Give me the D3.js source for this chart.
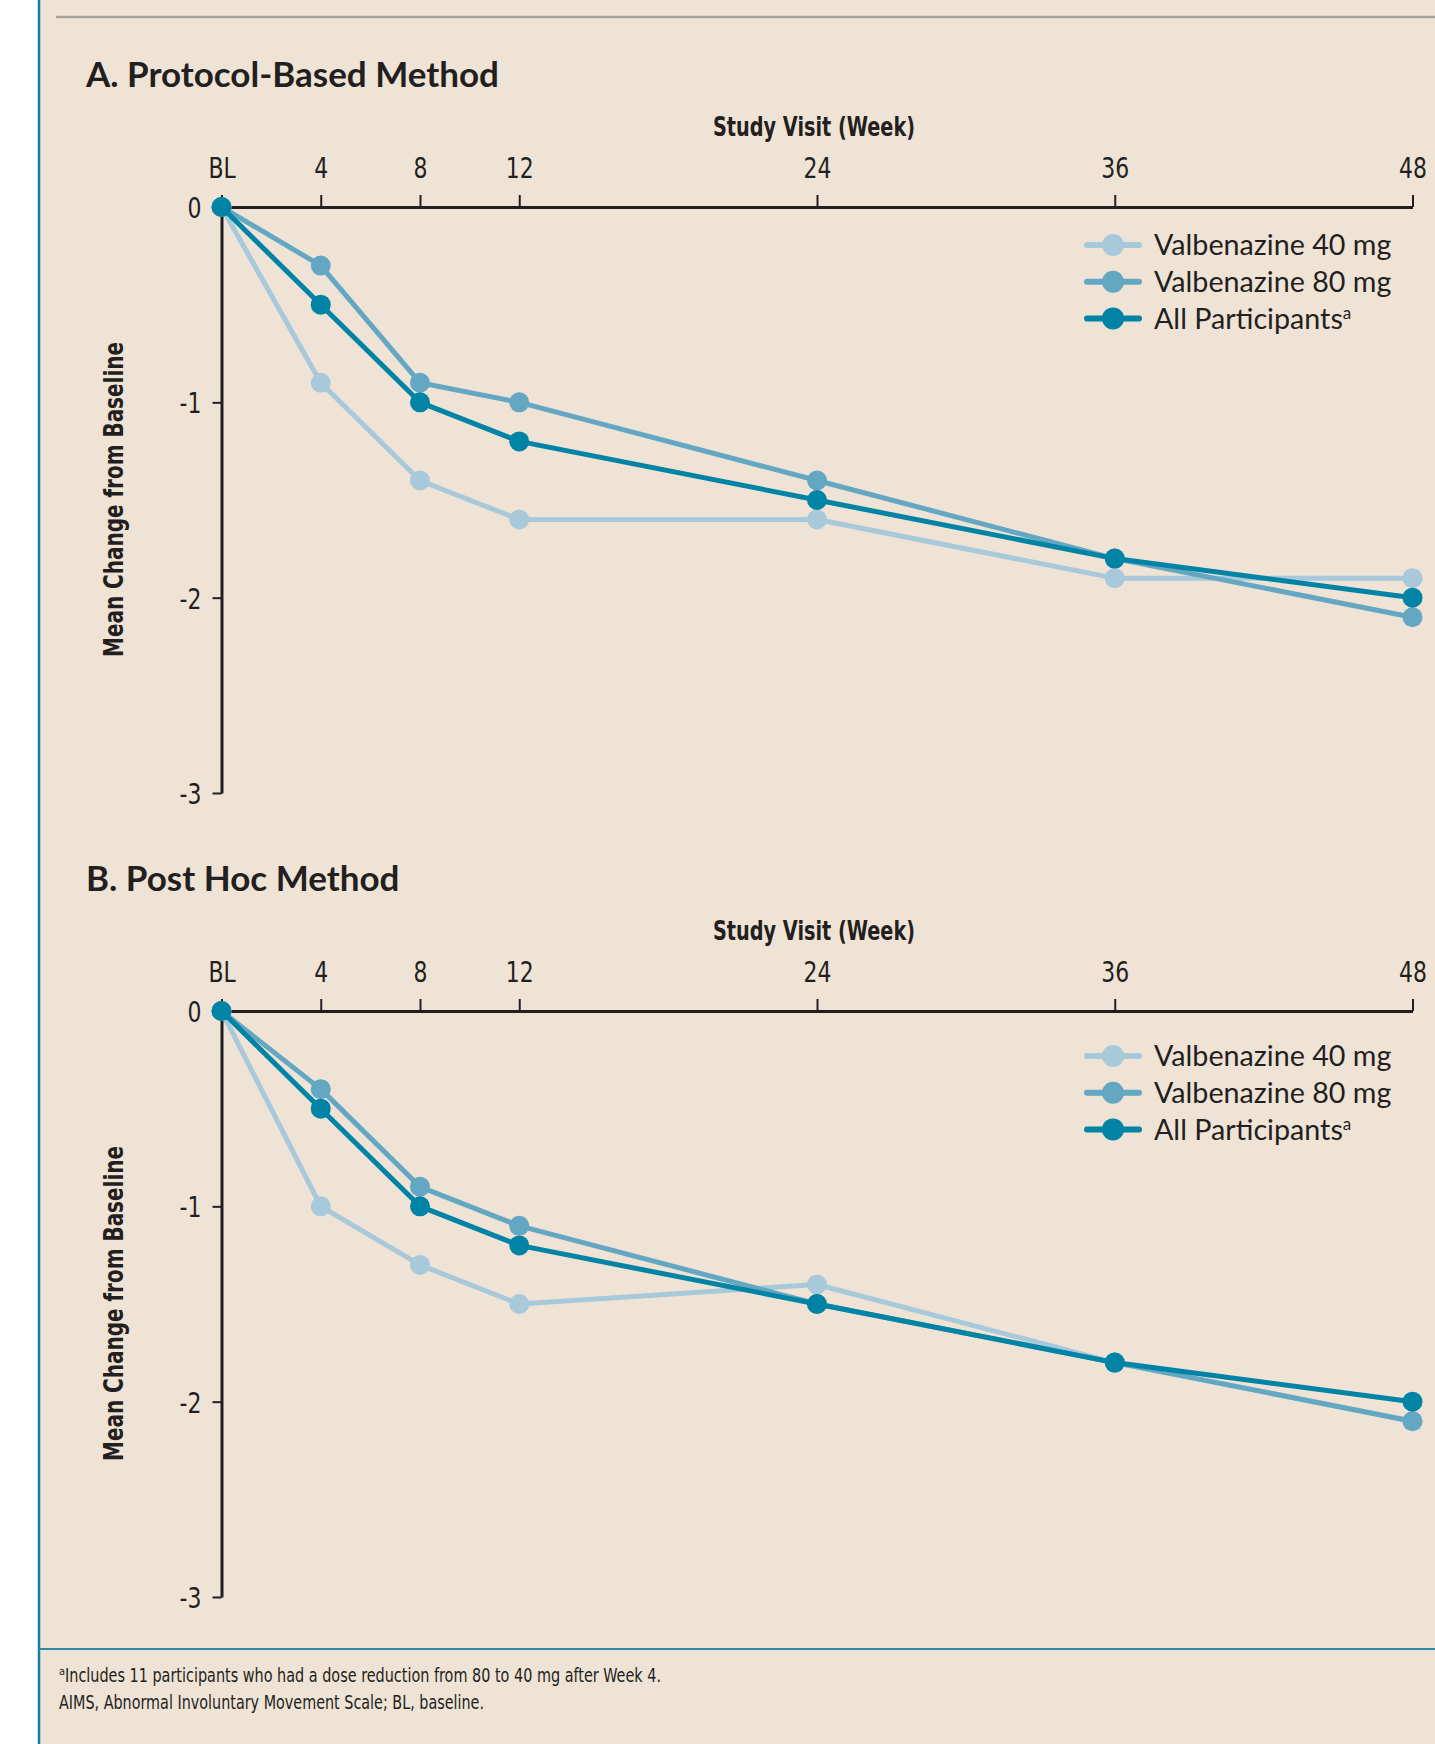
<!DOCTYPE html>
<html>
<head>
<meta charset="utf-8">
<script src="https://cdn.jsdelivr.net/npm/d3@7"></script>
<style>
  body { margin: 0; background: #ffffff; }
  #chart { width: 1435px; height: 1744px; }
</style>
</head>
<body>
<div id="chart"></div>
<script>
// x axis: study visits
var weeks = [0, 4, 8, 12, 24, 36, 48];
var weekLabels = ["BL", "4", "8", "12", "24", "36", "48"];
var yTicks = [0, -1, -2, -3];

var seriesNames = ["Valbenazine 40 mg", "Valbenazine 80 mg", "All Participants"];
var seriesColors = ["#a7c9da", "#63a7c3", "#0083a5"];

// A. protocol-based method
var protocol40 = [0, -0.9, -1.4, -1.6, -1.6, -1.9, -1.9];
var protocol80 = [0, -0.3, -0.9, -1.0, -1.4, -1.8, -2.1];
var protocolAll = [0, -0.5, -1.0, -1.2, -1.5, -1.8, -2.0];

// B. post hoc method
var posthoc40 = [0, -1.0, -1.3, -1.5, -1.4, -1.8, -2.1];
var posthoc80 = [0, -0.4, -0.9, -1.1, -1.5, -1.8, -2.1];
var posthocAll = [0, -0.5, -1.0, -1.2, -1.5, -1.8, -2.0];

var footnotes = [
    "Includes 11 participants who had a dose reduction from 80 to 40 mg after Week 4.",
    "AIMS, Abnormal Involuntary Movement Scale; BL, baseline."
];

const width = 1435, height = 1744;
const narrow = "'Liberation Sans Narrow', 'DejaVu Sans Condensed', sans-serif";
const plain = "Lato, 'Open Sans', sans-serif";
const ink = "#231f20";
const squeeze = 0.84; // condensed face is wider than the original

var svg = d3.select("#chart")
    .append("svg")
    .attr("width", width)
    .attr("height", height);

// page background and frame lines
svg.append("rect")
    .attr("width", width)
    .attr("height", height)
    .attr("fill", "#ffffff");
svg.append("rect")
    .attr("x", 39)
    .attr("width", width - 39)
    .attr("height", height)
    .attr("fill", "#efe3d6");
svg.append("line")
    .attr("x1", 39).attr("x2", 39)
    .attr("y1", 0).attr("y2", height)
    .attr("stroke", "#0a82a3")
    .attr("stroke-width", 2.5);
svg.append("line")
    .attr("x1", 56).attr("x2", width)
    .attr("y1", 17).attr("y2", 17)
    .attr("stroke", "#aaa39a")
    .attr("stroke-width", 2.5);

const x = d3.scaleLinear().domain([0, 48]).range([221.5, 1412.5]);
const y = d3.scaleLinear().domain([0, -3]).range([0, 586]);

function drawPanel(top, title, values, legendTop) {
    var g = svg.append("g").attr("transform", "translate(0," + top + ")");

    g.append("text")
        .attr("x", 86)
        .attr("y", -120)
        .attr("font-family", plain)
        .attr("font-weight", 700)
        .attr("font-size", 35)
        .attr("fill", ink)
        .text(title);

    g.append("text")
        .attr("x", 713)
        .attr("y", -71)
        .attr("font-family", narrow)
        .attr("font-weight", 700)
        .attr("font-size", 27)
        .attr("textLength", 202)
        .attr("lengthAdjust", "spacingAndGlyphs")
        .attr("fill", ink)
        .text("Study Visit (Week)");

    g.append("text")
        .attr("transform", "translate(123," + (y(-1.5) + 157) + ") rotate(-90)")
        .attr("font-family", narrow)
        .attr("font-weight", 700)
        .attr("font-size", 26)
        .attr("textLength", 315)
        .attr("lengthAdjust", "spacingAndGlyphs")
        .attr("fill", ink)
        .text("Mean Change from Baseline");

    // axes
    var xAxis = g.append("g")
        .call(d3.axisTop(x)
            .tickValues(weeks)
            .tickFormat((d, i) => weekLabels[i])
            .tickSize(12)
            .tickSizeOuter(0)
            .tickPadding(17));
    var yAxis = g.append("g")
        .attr("transform", "translate(" + x(0) + ",0)")
        .call(d3.axisLeft(y)
            .tickValues(yTicks)
            .tickFormat(d => String(d))
            .tickSize(9)
            .tickSizeOuter(0)
            .tickPadding(15));

    [xAxis, yAxis].forEach(a => {
        a.select(".domain").attr("stroke", ink).attr("stroke-width", 3);
        a.selectAll(".tick line").attr("stroke", ink).attr("stroke-width", 2);
        a.selectAll(".tick text")
            .attr("fill", ink)
            .attr("font-family", narrow)
            .attr("font-size", 29)
            .attr("transform", "scale(" + squeeze + ",1)");
    });
    yAxis.selectAll(".tick text").attr("dy", "0.36em");

    var line = d3.line()
        .x((d, i) => x(weeks[i]))
        .y(d => y(d));

    values.forEach((vals, s) => {
        g.append("path")
            .datum(vals)
            .attr("d", line)
            .attr("fill", "none")
            .attr("stroke", seriesColors[s])
            .attr("stroke-width", 5)
            .attr("stroke-linejoin", "round");
        g.append("g")
            .selectAll("circle")
            .data(vals)
            .enter()
            .append("circle")
            .attr("cx", (d, i) => x(weeks[i]))
            .attr("cy", d => y(d))
            .attr("r", 10)
            .attr("fill", seriesColors[s]);
    });

    // legend
    var legend = g.append("g")
        .selectAll("g")
        .data(seriesNames)
        .enter()
        .append("g")
        .attr("transform", (d, i) => "translate(0," + (legendTop + i * 36.7) + ")");
    legend.append("line")
        .attr("x1", 1087).attr("x2", 1139)
        .attr("stroke", (d, i) => seriesColors[i])
        .attr("stroke-width", 6)
        .attr("stroke-linecap", "round");
    legend.append("circle")
        .attr("cx", 1113)
        .attr("r", 11)
        .attr("fill", (d, i) => seriesColors[i]);
    var lt = legend.append("text")
        .attr("x", 1154)
        .attr("dy", "0.36em")
        .attr("font-family", plain)
        .attr("font-size", 28.7)
        .attr("fill", ink)
        .text(d => d);
    lt.filter((d, i) => i === 2)
        .append("tspan")
        .attr("dy", "-0.55em")
        .attr("font-size", 17)
        .text("a");
}

drawPanel(207, "A. Protocol-Based Method", [protocol40, protocol80, protocolAll], 38);
drawPanel(1011, "B. Post Hoc Method", [posthoc40, posthoc80, posthocAll], 45);

// footnotes
svg.append("line")
    .attr("x1", 39).attr("x2", width)
    .attr("y1", 1649).attr("y2", 1649)
    .attr("stroke", "#2b8aa8")
    .attr("stroke-width", 2);

var fn = svg.append("g")
    .attr("font-family", narrow)
    .attr("font-size", 19)
    .attr("fill", ink);
fn.append("text").attr("x", 59).attr("y", 1675).attr("font-size", 11).text("a");
fn.append("text").attr("x", 65).attr("y", 1682)
    .attr("textLength", 596)
    .attr("lengthAdjust", "spacingAndGlyphs")
    .text(footnotes[0]);
fn.append("text").attr("x", 59).attr("y", 1709)
    .attr("textLength", 425)
    .attr("lengthAdjust", "spacingAndGlyphs")
    .text(footnotes[1]);
</script>
</body>
</html>
